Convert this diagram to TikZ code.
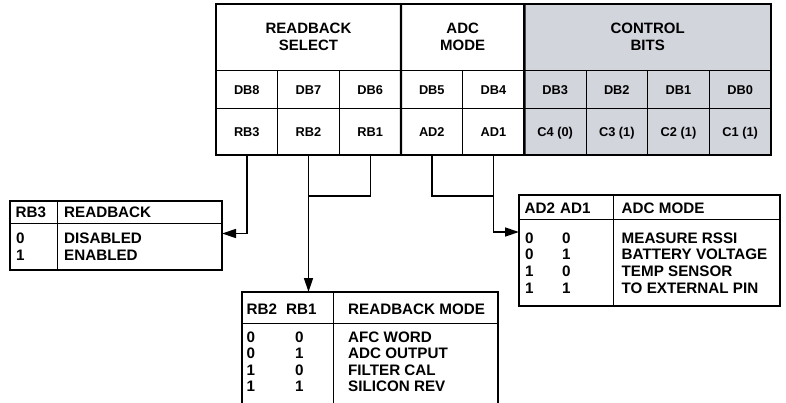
\documentclass[tikz,border=0pt]{standalone}
\usepackage{fontspec}
\setmainfont{Liberation Sans}
\usetikzlibrary{arrows.meta}
\definecolor{ctrlgray}{RGB}{211,213,221}
\begin{document}
\begin{tikzpicture}[x=1pt,y=-1pt,
  thinline/.style={line width=0.9pt},
  thickline/.style={line width=2.4pt},
  conn/.style={line width=1.4pt},
  arr/.style={-{Triangle[length=14pt,width=9pt]}},
  cellbox/.style={draw=black,thinline,inner sep=0pt,outer sep=0pt,
    minimum width=61.67pt,font=\bfseries\fontsize{12.8}{13}\selectfont,
    text height=9.2pt,text depth=0pt},
  dbcell/.style={cellbox,minimum height=38pt},
  rbcell/.style={cellbox,minimum height=47pt},
  hdrbox/.style={draw=black,thinline,inner sep=0pt,outer sep=0pt,
    minimum height=66pt,align=center,font=\bfseries\fontsize{15}{17}\selectfont},
  tabbox/.style={draw=black,thickline,inner sep=0pt,outer sep=0pt},
  tt/.style={font=\bfseries\fontsize{15.2}{16.5}\selectfont,inner sep=0pt,
    anchor=west,text height=11pt,text depth=0pt},
]
\useasboundingbox (0,0) rectangle (786,402);
\clip (0,0) rectangle (786,402);

% ---------- top register table ----------
\fill[ctrlgray] (524.3,4) rectangle (771,155);
\node[hdrbox,minimum width=185pt] (hrb) at (308.5,37) {READBACK\\SELECT};
\node[hdrbox,minimum width=123.3pt] (hadc) at (462.7,37) {ADC\\MODE};
\node[hdrbox,minimum width=246.7pt] (hctl) at (647.7,37) {CONTROL\\BITS};

\node[dbcell] (db8) at (246.8,89.5) {DB8};
\node[dbcell] (db7) at (308.5,89.5) {DB7};
\node[dbcell] (db6) at (370.2,89.5) {DB6};
\node[dbcell] (db5) at (431.8,89.5) {DB5};
\node[dbcell] (db4) at (493.5,89.5) {DB4};
\node[dbcell] (db3) at (555.2,89.5) {DB3};
\node[dbcell] (db2) at (616.8,89.5) {DB2};
\node[dbcell] (db1) at (678.5,89.5) {DB1};
\node[dbcell] (db0) at (740.2,89.5) {DB0};

\node[rbcell] (rb3) at (246.8,131.5) {RB3};
\node[rbcell] (rb2) at (308.5,131.5) {RB2};
\node[rbcell] (rb1) at (370.2,131.5) {RB1};
\node[rbcell] (ad2) at (431.8,131.5) {AD2};
\node[rbcell] (ad1) at (493.5,131.5) {AD1};
\node[rbcell] (c4) at (555.2,131.5) {C4 (0)};
\node[rbcell] (c3) at (616.8,131.5) {C3 (1)};
\node[rbcell] (c2) at (678.5,131.5) {C2 (1)};
\node[rbcell] (c1) at (740.2,131.5) {C1 (1)};

\draw[thickline] (216,4) rectangle (771,155);
\draw[thickline] (hrb.north east) -- (rb1.south east);
\draw[thickline] (hadc.north east) -- (ad1.south east);

% ---------- left table ----------
\node[tabbox,minimum width=212pt,minimum height=69pt] (lefttab) at (116,235.5) {};
\draw[thinline] (10,223) -- (222,223);
\draw[thinline] (57,201) -- (57,270);
\node[tt] (l0) at (15.5,212) {RB3};
\node[tt] (l1) at (64,212) {READBACK};
\node[tt] (l2) at (16,237.5) {0};
\node[tt] (l3) at (64,237.5) {DISABLED};
\node[tt] (l4) at (16,254.5) {1};
\node[tt] (l5) at (64,254.5) {ENABLED};

% ---------- right table ----------
\node[tabbox,minimum width=261pt,minimum height=111pt] (righttab) at (649.5,250.5) {};
\draw[thinline] (519,219) -- (780,219);
\draw[thinline] (613,195) -- (613,306);
\node[tt] (r0) at (524.5,207.5) {AD2};
\node[tt] (r1) at (560,207.5) {AD1};
\node[tt] (r2) at (621.5,207.5) {ADC MODE};
\node[tt] (r3) at (525,237.5) {0};
\node[tt] (r4) at (562,237.5) {0};
\node[tt] (r5) at (621.5,237.5) {MEASURE RSSI};
\node[tt] (r6) at (525,254) {0};
\node[tt] (r7) at (562,254) {1};
\node[tt] (r8) at (621.5,254) {BATTERY VOLTAGE};
\node[tt] (r9) at (525,271) {1};
\node[tt] (r10) at (562,271) {0};
\node[tt] (r11) at (621.5,271) {TEMP SENSOR};
\node[tt] (r12) at (525,287.5) {1};
\node[tt] (r13) at (562,287.5) {1};
\node[tt] (r14) at (621.5,287.5) {TO EXTERNAL PIN};

% ---------- bottom table ----------
\node[tabbox,minimum width=256.3pt,minimum height=128pt] (bottab) at (369.85,356) {};
\draw[thinline] (241.7,323) -- (498,323);
\draw[thinline] (333,292) -- (333,420);
\node[tt] (b0) at (246.5,309) {RB2};
\node[tt] (b1) at (286,309) {RB1};
\node[tt] (b2) at (348,309) {READBACK MODE};
\node[tt] (b3) at (246.5,337) {0};
\node[tt] (b4) at (295,337) {0};
\node[tt] (b5) at (348,337) {AFC WORD};
\node[tt] (b6) at (246.5,353) {0};
\node[tt] (b7) at (295,353) {1};
\node[tt] (b8) at (348,353) {ADC OUTPUT};
\node[tt] (b9) at (246.5,369.5) {1};
\node[tt] (b10) at (295,369.5) {0};
\node[tt] (b11) at (348,369.5) {FILTER CAL};
\node[tt] (b12) at (246.5,385.5) {1};
\node[tt] (b13) at (295,385.5) {1};
\node[tt] (b14) at (348,385.5) {SILICON REV};

% ---------- connectors ----------
\coordinate (rbj) at (308.5,196);
\coordinate (adj) at (493.5,196);
\draw[conn,arr] (rb3.south) |- ([yshift=2pt]lefttab.east);
\draw[conn,arr] (rb2.south) -- (rb2.south |- bottab.north);
\draw[conn] (rb1.south) |- (rbj);
\draw[conn] (ad2.south) |- (adj);
\draw[conn,arr] (ad1.south) |- ([yshift=18.5pt]righttab.west);
\end{tikzpicture}
\end{document}
